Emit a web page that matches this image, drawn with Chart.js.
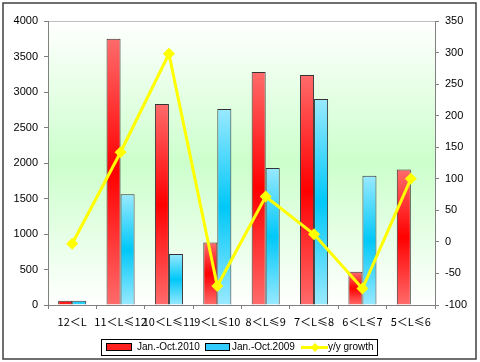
<!DOCTYPE html>
<html><head><meta charset="utf-8">
<script src="https://cdn.jsdelivr.net/npm/chart.js@4/dist/chart.umd.min.js"></script>
<style>html,body{margin:0;padding:0;background:#fff}#wrap{width:480px;height:362px}</style>
</head><body><div id="wrap"><canvas id="c" width="480" height="362"></canvas></div>
<script>
const categories = ["12＜L","11＜L≤12","10＜L≤11","9＜L≤10","8＜L≤9","7＜L≤8","6＜L≤7","5＜L≤6"];
const sales2010 = [60, 3750, 2830, 880, 3280, 3240, 470, 1910];
const sales2009 = [60, 1560, 720, 2760, 1930, 2900, 1820, 0];
const growth = [-3, 142, 298, -70, 72, 12, -74, 100];
const leftTicks = [0,500,1000,1500,2000,2500,3000,3500,4000];
const rightTicks = [-100,-50,0,50,100,150,200,250,300,350];

function barGrad(light, dark) {
  return function(ctx) {
    const chart = ctx.chart;
    if (ctx.type !== 'data' || !chart.scales.y) return dark;
    const y = chart.scales.y;
    const top = y.getPixelForValue(ctx.raw), base = y.getPixelForValue(0);
    if (!isFinite(top) || Math.abs(base - top) < 1) return dark;
    const g = chart.ctx.createLinearGradient(0, top, 0, base);
    g.addColorStop(0, light); g.addColorStop(0.5, dark); g.addColorStop(1, light);
    return g;
  };
}

const decor = {
  id: 'decor',
  beforeDraw(chart) {
    const {ctx, chartArea: a} = chart;
    ctx.save();
    ctx.fillStyle = '#fff'; ctx.fillRect(0,0,chart.width,chart.height);
    const g = ctx.createLinearGradient(0, a.top, 0, a.bottom);
    g.addColorStop(0, '#ffffff'); g.addColorStop(0.5, '#ccffcc'); g.addColorStop(1, '#ffffff');
    ctx.fillStyle = g; ctx.fillRect(a.left, a.top, a.right - a.left, a.bottom - a.top);
    ctx.strokeStyle = '#c0c0c0'; ctx.lineWidth = 1;
    ctx.beginPath(); ctx.moveTo(a.left, a.top + 0.5); ctx.lineTo(a.right, a.top + 0.5); ctx.stroke();
    ctx.restore();
  },
  afterDraw(chart) {
    const {ctx} = chart;
    ctx.save();
    ctx.strokeStyle = '#404040'; ctx.lineWidth = 1.5;
    ctx.strokeRect(3, 3, 473, 356);
    // legend
    ctx.strokeStyle = '#000'; ctx.lineWidth = 1;
    ctx.strokeRect(101.5, 339.5, 276, 16);
    const ds = chart.data.datasets;
    const d10 = ds.find(d => d.label === 'Jan.-Oct.2010');
    const d09 = ds.find(d => d.label === 'Jan.-Oct.2009');
    const dg = ds.find(d => d.type === 'line');
    ctx.font = '10px "Liberation Sans", Arial, sans-serif';
    ctx.textBaseline = 'middle'; ctx.fillStyle = '#000';
    const cy = 347.5;
    ctx.fillStyle = '#ff2020'; ctx.fillRect(106, 343, 26, 8);
    ctx.strokeStyle = '#000'; ctx.strokeRect(106.5, 343.5, 25, 7);
    ctx.fillStyle = '#000'; ctx.fillText(d10.label, 137, cy);
    ctx.fillStyle = '#33ccff'; ctx.fillRect(205, 343, 25, 8);
    ctx.strokeStyle = '#000'; ctx.strokeRect(205.5, 343.5, 24, 7);
    ctx.fillStyle = '#000'; ctx.fillText(d09.label, 232, cy);
    ctx.strokeStyle = '#ffff00'; ctx.lineWidth = 3;
    ctx.beginPath(); ctx.moveTo(301, cy); ctx.lineTo(328, cy); ctx.stroke();
    ctx.fillStyle = '#ffff00';
    ctx.beginPath(); ctx.moveTo(315, cy-4.5); ctx.lineTo(319.5, cy); ctx.lineTo(315, cy+4.5); ctx.lineTo(310.5, cy); ctx.closePath(); ctx.fill();
    ctx.fillStyle = '#000'; ctx.fillText(dg.label, 328, cy);
    ctx.restore();
  }
};

new Chart(document.getElementById('c'), {
  data: {
    labels: categories,
    datasets: [
      {type:'line', label:'y/y growth', data: growth, yAxisID:'y1', borderColor:'#ffff00', backgroundColor:'#ffff00',
       borderWidth:3, pointStyle:'rectRot', pointRadius:6, pointBorderWidth:0, tension:0, order:0},
      {type:'bar', label:'Jan.-Oct.2010', data: sales2010, yAxisID:'y', backgroundColor: barGrad('#ff6b6b','#ff0000'),
       borderColor:'#333', borderWidth:1, categoryPercentage:0.58, barPercentage:1, order:1},
      {type:'bar', label:'Jan.-Oct.2009', data: sales2009, yAxisID:'y', backgroundColor: barGrad('#99e9ff','#00c8f8'),
       borderColor:'#333', borderWidth:1, categoryPercentage:0.58, barPercentage:1, order:1}
    ]
  },
  options: {
    responsive:false, animation:false, devicePixelRatio:1,
    layout:{padding:{top:21, bottom:27, left:0, right:0}},
    plugins:{legend:{display:false}, tooltip:{enabled:false}},
    scales:{
      x:{position:'bottom', offset:true,
         grid:{display:true, offset:true, drawOnChartArea:false, drawTicks:true, tickLength:4, color:'#808080'},
         border:{display:true, color:'#808080'},
         ticks:{autoSkip:false, maxRotation:0, minRotation:0, color:'#000', padding:6,
                font:{family:'"Noto Sans CJK SC", sans-serif', size:11}},
         afterFit(s){ s.height = 30; }},
      y:{position:'left', min:0, max:4000, afterBuildTicks(s){ s.ticks = leftTicks.map(v=>({value:v})); },
         grid:{display:true, drawOnChartArea:false, drawTicks:true, tickLength:4, color:'#808080'},
         border:{display:true, color:'#808080'},
         ticks:{color:'#000', padding:6, callback:v=>String(v), font:{family:'"Liberation Sans", Arial, sans-serif', size:11}},
         afterFit(s){ s.width = 48; }},
      y1:{position:'right', min:-100, max:350, afterBuildTicks(s){ s.ticks = rightTicks.map(v=>({value:v})); },
         grid:{display:true, drawOnChartArea:false, drawTicks:true, tickLength:4, color:'#808080'},
         border:{display:true, color:'#808080'},
         ticks:{color:'#000', padding:6, callback:v=>String(v), font:{family:'"Liberation Sans", Arial, sans-serif', size:11}},
         afterFit(s){ s.width = 45; }}
    }
  },
  plugins:[decor]
});
</script></body></html>
